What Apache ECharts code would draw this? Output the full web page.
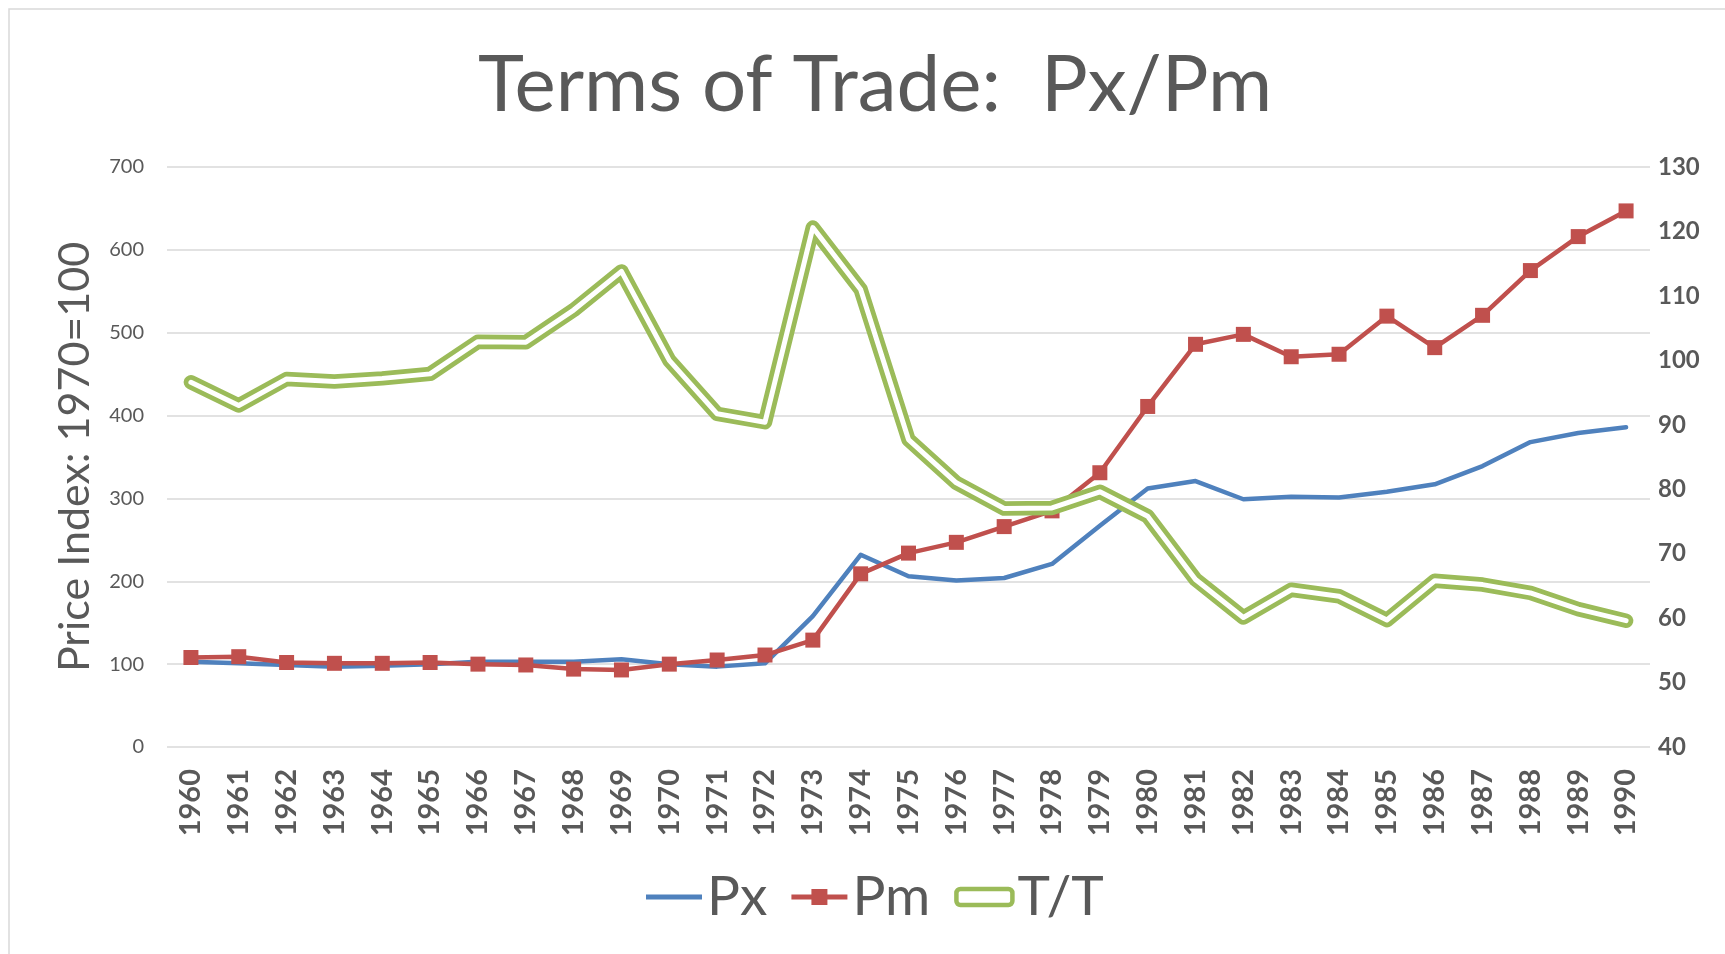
<!DOCTYPE html>
<html>
<head>
<meta charset="utf-8">
<script src="https://cdn.jsdelivr.net/npm/echarts@6/dist/echarts.min.js"></script>
<style>
    html, body { margin: 0; padding: 0; background: #fff; }
    #chart { width: 1725px; height: 954px; }
</style>
</head>
<body>
<div id="chart"></div>
<script>
// years on the category axis
const years = ['1960', '1961', '1962', '1963', '1964', '1965', '1966', '1967', '1968', '1969',
    '1970', '1971', '1972', '1973', '1974', '1975', '1976', '1977', '1978', '1979',
    '1980', '1981', '1982', '1983', '1984', '1985', '1986', '1987', '1988', '1989', '1990'];

// export prices (left axis)
const px = [103, 101, 99, 97, 98, 100, 103, 103, 103, 106,
    100, 97, 101, 158, 232, 206, 201, 204, 221, 267,
    312, 321, 299, 302, 301, 308, 317, 339, 368, 379, 386];

// import prices (left axis)
const pm = [108, 109, 102, 101, 101, 102, 100, 99, 94, 93,
    100, 105, 111, 129, 209, 234, 247, 266, 285, 331,
    411, 486, 498, 471, 474, 520, 482, 521, 575, 616, 647];

// terms of trade (right axis)
const tt = [96.6, 93.0, 97.1, 96.7, 97.2, 97.9, 102.9, 102.8, 107.8, 113.8,
    100.0, 91.7, 90.4, 120.6, 111.0, 87.7, 81.0, 77.0, 77.1, 79.6,
    75.8, 66.0, 60.1, 64.4, 63.4, 59.7, 65.8, 65.2, 63.9, 61.4, 59.6];

const font = 'Lato, "Open Sans", sans-serif';
const grey = '#595959';
const blue = '#4F81BD';
const red = '#C0504D';
const green = '#9BBB59';

const myChart = echarts.init(document.querySelector('#chart'));

myChart.setOption({
    backgroundColor: '#fff',
    animation: false,
    title: {
        text: 'Terms of Trade:  Px/Pm',
        left: 870,
        top: 42,
        textAlign: 'center',
        textStyle: {
            fontFamily: font,
            fontSize: 78,
            fontWeight: 'normal',
            color: grey
        }
    },
    graphic: [{
        type: 'rect',
        shape: { x: 9, y: 9, width: 1760, height: 980 },
        style: { fill: 'none', stroke: '#d9d9d9', lineWidth: 1.5 },
        silent: true
    }],
    grid: { left: 167, right: 75, top: 167, bottom: 207 },
    legend: {
        top: 863,
        left: 641,
        itemWidth: 56,
        itemHeight: 16,
        itemGap: 24,
        textStyle: { fontFamily: font, fontSize: 55, color: grey, lineHeight: 58 },
        data: [
            { name: 'Px', icon: 'path://M0,0 H56 V5 H0 Z', itemStyle: { color: blue } },
            { name: 'Pm', icon: 'path://M0,5.5 H20 V0 H36 V5.5 H56 V10.5 H36 V16 H20 V10.5 H0 Z', itemStyle: { color: red } },
            { name: 'T/T', icon: 'roundRect', itemStyle: { color: '#fff', borderColor: green, borderWidth: 4.5 } }
        ]
    },
    xAxis: {
        type: 'category',
        data: years,
        axisLine: { show: false },
        axisTick: { show: false },
        axisLabel: {
            rotate: 90,
            margin: 22,
            fontFamily: font,
            fontSize: 29,
            fontWeight: 'bold',
            color: grey
        }
    },
    yAxis: [{
        type: 'value',
        min: 0,
        max: 700,
        interval: 100,
        name: 'Price Index: 1970=100',
        nameLocation: 'middle',
        nameGap: 70,
        nameTextStyle: { fontFamily: font, fontSize: 43, color: grey },
        axisLine: { show: false },
        axisTick: { show: false },
        splitLine: { lineStyle: { color: '#d9d9d9', width: 1.5 } },
        axisLabel: { margin: 23, fontFamily: font, fontSize: 20, color: grey }
    }, {
        type: 'value',
        min: 40,
        max: 130,
        interval: 10,
        position: 'right',
        axisLine: { show: false },
        axisTick: { show: false },
        splitLine: { show: false },
        axisLabel: { margin: 8, fontFamily: font, fontSize: 24, fontWeight: 'bold', color: grey }
    }],
    series: [{
        name: 'Px',
        type: 'line',
        data: px,
        symbol: 'none',
        z: 2,
        lineStyle: { color: blue, width: 4.5, cap: 'round', join: 'round' },
        itemStyle: { color: blue }
    }, {
        name: 'Pm',
        type: 'line',
        data: pm,
        symbol: 'rect',
        symbolSize: 15,
        z: 3,
        lineStyle: { color: red, width: 4.5, join: 'round' },
        itemStyle: { color: red }
    }, {
        name: 'T/T',
        type: 'line',
        yAxisIndex: 1,
        data: tt,
        symbol: 'none',
        z: 4,
        lineStyle: { color: green, width: 14.5, cap: 'round', join: 'round' },
        itemStyle: { color: green }
    }, {
        // white gap of the double line
        name: 'T/T gap',
        type: 'line',
        yAxisIndex: 1,
        data: tt,
        symbol: 'none',
        z: 5,
        silent: true,
        lineStyle: { color: '#fff', width: 5, cap: 'round', join: 'round' }
    }]
});
</script>
</body>
</html>
